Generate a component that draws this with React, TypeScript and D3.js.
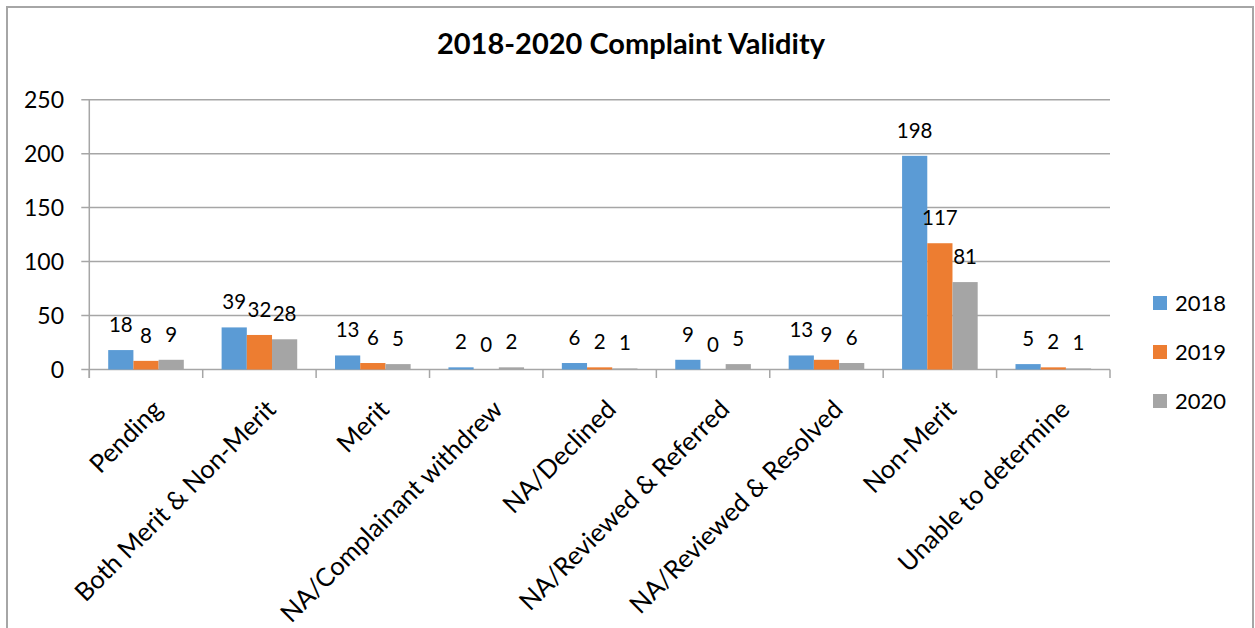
import React, { useEffect, useRef } from "react";
import * as d3 from "d3";

// Chart data
const categories = [
  "Pending",
  "Both Merit & Non-Merit",
  "Merit",
  "NA/Complainant withdrew",
  "NA/Declined",
  "NA/Reviewed & Referred",
  "NA/Reviewed & Resolved",
  "Non-Merit",
  "Unable to determine",
];
const seriesNames = ["2018", "2019", "2020"];
const values2018 = [18, 39, 13, 2, 6, 9, 13, 198, 5];
const values2019 = [8, 32, 6, 0, 2, 0, 9, 117, 2];
const values2020 = [9, 28, 5, 2, 1, 5, 6, 81, 1];
const yTicks = [0, 50, 100, 150, 200, 250];

const seriesValues = [values2018, values2019, values2020];
const colors = ["#5B9BD5", "#ED7D31", "#A5A5A5"];
const FONT = "Lato, 'Open Sans', sans-serif";

export default function App() {
  const svgRef = useRef<SVGSVGElement>(null);

  useEffect(() => {
    if (!svgRef.current) return;
    const svg = d3.select(svgRef.current);
    svg.selectAll("*").remove();

    const plot = { left: 89.3, right: 1110, top: 99.7, bottom: 369.5 };

    // Outer chart frame
    svg.append("rect")
      .attr("x", 7)
      .attr("y", 7)
      .attr("width", 1246)
      .attr("height", 650)
      .attr("fill", "#fff")
      .attr("stroke", "#a6a6a6")
      .attr("stroke-width", 2);

    // Title
    svg.append("text")
      .attr("x", 631)
      .attr("y", 54)
      .attr("text-anchor", "middle")
      .style("font-family", FONT)
      .style("font-weight", "bold")
      .style("font-size", "29px")
      .attr("fill", "#000")
      .text("2018-2020 Complaint Validity");

    // Scales
    const yScale = d3.scaleLinear().domain([0, 250]).range([plot.bottom, plot.top]);
    const xScale = d3.scaleBand().domain(categories).range([plot.left, plot.right]);
    const bw = xScale.bandwidth();
    const xSub = d3.scaleBand()
      .domain(seriesNames)
      .range([0, bw])
      .paddingInner(0)
      .paddingOuter(0.75);

    // Gridlines + y labels
    const grid = svg.append("g");
    yTicks.forEach((t) => {
      grid.append("line")
        .attr("x1", plot.left - 8)
        .attr("x2", plot.right)
        .attr("y1", yScale(t))
        .attr("y2", yScale(t))
        .attr("stroke", "#a6a6a6")
        .attr("stroke-width", 1.5);
      grid.append("text")
        .attr("x", 64)
        .attr("y", yScale(t))
        .attr("dy", "0.36em")
        .attr("text-anchor", "end")
        .style("font-family", FONT)
        .style("font-size", "23px")
        .attr("fill", "#000")
        .text(t);
    });

    // Vertical axis line
    svg.append("line")
      .attr("x1", plot.left)
      .attr("x2", plot.left)
      .attr("y1", plot.top)
      .attr("y2", plot.bottom + 8.5)
      .attr("stroke", "#a6a6a6")
      .attr("stroke-width", 1.5);

    // Category tick marks at band boundaries
    const boundaries = categories.map((c) => xScale(c) as number).concat([plot.right]);
    boundaries.forEach((bx) => {
      svg.append("line")
        .attr("x1", bx)
        .attr("x2", bx)
        .attr("y1", plot.bottom)
        .attr("y2", plot.bottom + 8.5)
        .attr("stroke", "#a6a6a6")
        .attr("stroke-width", 1.5);
    });

    // Bars + data labels
    const bars = svg.append("g");
    categories.forEach((cat, i) => {
      const gx = xScale(cat) as number;
      seriesNames.forEach((s, si) => {
        const v = seriesValues[si][i];
        const bx = gx + (xSub(s) as number);
        bars.append("rect")
          .attr("x", bx)
          .attr("y", yScale(v))
          .attr("width", xSub.bandwidth())
          .attr("height", plot.bottom - yScale(v))
          .attr("fill", colors[si]);
        bars.append("text")
          .attr("x", bx + xSub.bandwidth() / 2)
          .attr("y", yScale(v) - 18)
          .attr("text-anchor", "middle")
          .style("font-family", FONT)
          .style("font-size", "20.5px")
          .attr("fill", "#000")
          .text(v);
      });
    });

    // Rotated category labels, right end tucked under the band centre
    categories.forEach((cat) => {
      const cx = (xScale(cat) as number) + bw / 2;
      svg.append("text")
        .attr("transform", `translate(${cx + 5},398) rotate(-45)`)
        .attr("dy", "0.72em")
        .attr("text-anchor", "end")
        .style("font-family", FONT)
        .style("font-size", "25.5px")
        .attr("fill", "#000")
        .text(cat);
    });

    // Legend
    const legend = svg.append("g").attr("transform", "translate(1153,296)");
    seriesNames.forEach((s, si) => {
      legend.append("rect")
        .attr("x", 0)
        .attr("y", si * 49)
        .attr("width", 14)
        .attr("height", 14)
        .attr("fill", colors[si]);
      legend.append("text")
        .attr("x", 22)
        .attr("y", si * 49 + 15)
        .style("font-family", FONT)
        .style("font-size", "22px")
        .attr("fill", "#000")
        .text(s);
    });
  }, []);

  return (
    <svg
      ref={svgRef}
      width={1255}
      height={628}
      style={{ position: "absolute", left: 0, top: 0, display: "block" }}
    />
  );
}
